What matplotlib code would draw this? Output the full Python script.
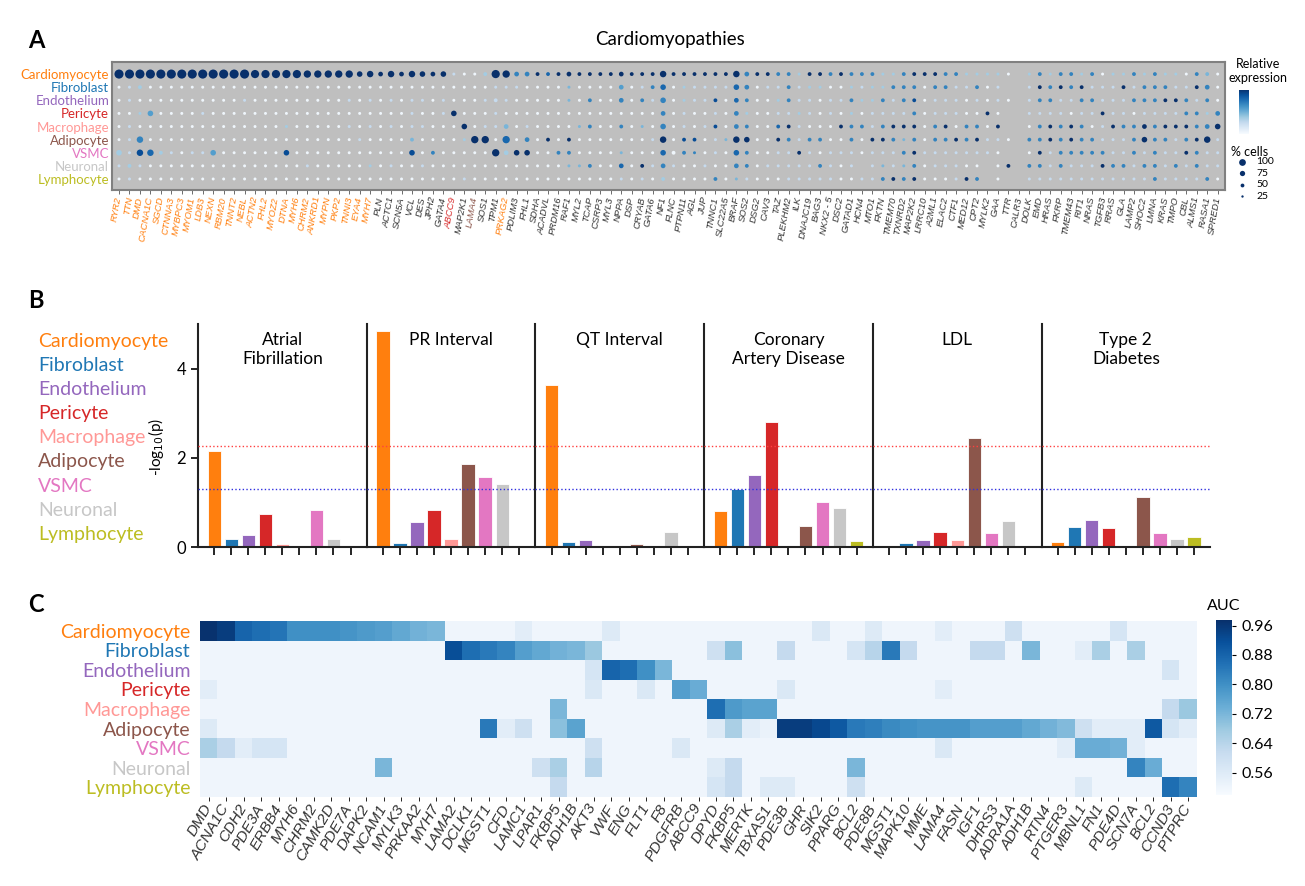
import matplotlib
matplotlib.use('Agg')
import matplotlib.pyplot as plt
import numpy as np

plt.rcParams['font.family'] = ['Lato', 'DejaVu Sans']

W, H = 1305, 886

cell_types = ['Cardiomyocyte', 'Fibroblast', 'Endothelium', 'Pericyte', 'Macrophage',
              'Adipocyte', 'VSMC', 'Neuronal', 'Lymphocyte']
cell_colors = ['#ff7f0e', '#1f77b4', '#9467bd', '#d62728', '#ff9896',
               '#8c564b', '#e377c2', '#c7c7c7', '#bcbd22']

# ---- panel A: cardiomyopathy genes ----
cm_genes = ['RYR2', 'TTN', 'DMD', 'CACNA1C', 'SGCD', 'CTNNA3', 'MYBPC3', 'MYOM1', 'LDB3', 'NEXN',
            'RBM20', 'TNNT2', 'NEBL', 'ACTN2', 'FHL2', 'MYOZ2', 'DTNA', 'MYH6', 'CHRM2', 'ANKRD1',
            'MYPN', 'PKP2', 'TNNI3', 'EYA4', 'MYH7', 'PLN', 'ACTC1', 'SCN5A', 'VCL', 'DES',
            'JPH2', 'GATA4', 'ABCC9', 'MAP2K1', 'LAMA4', 'SOS1', 'TPM1', 'PRKAG2', 'PDLIM3', 'FHL1',
            'SDHA', 'ACADVL', 'PRDM16', 'RAF1', 'MYL2', 'TCAP', 'CSRP3', 'MYL3', 'NPPA', 'DSP',
            'CRYAB', 'GATA6', 'NF1', 'FLNC', 'PTPN11', 'AGL', 'JUP', 'TNNC1', 'SLC22A5', 'BRAF',
            'SOS2', 'DSG2', 'CAV3', 'TAZ', 'PLEKHM2', 'ILK', 'DNAJC19', 'BAG3', 'NKX2 - 5', 'DSC2',
            'GATAD1', 'HCN4', 'MTO1', 'FKTN', 'TMEM70', 'TXNRD2', 'MAP2K2', 'LRRC10', 'A2ML1', 'ELAC2',
            'CTF1', 'MED12', 'CPT2', 'MYLK2', 'GAA', 'TTR', 'CALR3', 'DOLK', 'EMD', 'HRAS',
            'FKRP', 'TMEM43', 'RIT1', 'NRAS', 'TGFB3', 'RRAS', 'GLA', 'LAMP2', 'SHOC2', 'LMNA',
            'KRAS', 'TMPO', 'CBL', 'ALMS1', 'RASA1', 'SPRED1']
# label colour = cell type the gene was assigned to (0 cardio, 3 pericyte, 5 adipocyte, -1 none)
cm_gene_group = [0] * 25 + [-1] * 7 + [3, -1, 5, -1, -1, 0] + [-1] * 68

# % cells code per gene (0..9 -> 0..100 %), one string per cell type
pct_codes = [
    '9999999999 9998888877 7775646465 4522238744 3334333343 3363333336 4333323333 3332233333 3222220232 3323222323 222332',
    '2232222222 2222222222 2222222222 2222222222 2222222242 2352222225 4222322222 2222333233 2232200233 3332223233 322342',
    '2222222222 2222222222 2222222222 2222223222 2222232242 3252222324 3222322222 3223233222 2222220233 2233222333 333232',
    '2225222222 2222222222 2222222222 2252222222 2222222222 2242222224 2222222222 2222223222 2223200222 2222322222 223324',
    '2222222222 2222222222 2222222222 2225222422 2222232232 2252222324 3223322223 3323333233 2332300233 3332233343 333345',
    '2262222222 2222222222 2222222232 2222772724 2323222222 2262332226 5223323322 3233323233 3332220333 3333222353 323362',
    '5266322225 2222225222 2222222252 3222227455 2233222222 2253322225 3222232222 2222233222 2222200232 3333322323 223322',
    '2322222222 2222222222 2222222222 2222222222 2222232242 3242222224 3222222322 2022223222 2220230332 3222333233 232322',
    '2222222222 2222222222 2222222222 2222222222 2222222222 2232222322 2222222222 2223333222 2330200222 2222222223 222232',
]
# relative expression code per gene (0..9 -> 0..1)
expr_codes = [
    '9999999999 9999999999 9999999999 9920039966 9799999999 9999999999 6996639969 6663369996 6333300363 6636033636 330640',
    '0230000000 0000000000 0000000000 0000002220 0004000050 2670322227 6022623300 3233666066 2260200296 9692229266 622960',
    '0200000000 0020000000 0020202022 0200022200 0004060060 6260322807 6003622022 6336268022 2020200266 2266222666 996260',
    '0035000020 0000000000 0000000020 0290002000 0000000000 0060200206 3002232020 3022226022 2009000222 2022922022 226636',
    '0200000000 0000003000 0020202022 0009022402 0000460060 4060202806 6007920009 6626999069 0660900069 6960296696 999669',
    '0260000000 0000000000 0002000040 0003990706 0909000000 0290880249 9009626600 6099646066 9692200669 6966222696 626992',
    '3287320225 0000008000 0000000080 6000009399 0066000040 0070660207 6002292022 2022269222 2222000092 6666622626 229622',
    '2320000000 0000000020 0000302002 0000000000 0004460070 9262002006 6022222620 2024246022 2000090662 6222966266 262622',
    '0200000000 0000000000 0000000000 0002000000 0000000020 2030000604 2000222220 0226969000 2960000222 2222222226 222260',
]
legend_pct = [100, 75, 50, 25]

# ---- panel B: -log10(p) per trait ----
traits = ['Atrial\nFibrillation', 'PR Interval', 'QT Interval',
          'Coronary\nArtery Disease', 'LDL', 'Type 2\nDiabetes']
af_p = [2.16, 0.17, 0.28, 0.75, 0.06, 0.02, 0.84, 0.19, 0.03]
pr_p = [4.85, 0.09, 0.55, 0.84, 0.19, 1.86, 1.57, 1.42, 0.0]
qt_p = [3.63, 0.11, 0.15, 0.0, 0.0, 0.07, 0.0, 0.34, 0.02]
cad_p = [0.81, 1.31, 1.62, 2.81, 0.0, 0.46, 1.01, 0.88, 0.13]
ldl_p = [0.0, 0.10, 0.16, 0.34, 0.15, 2.44, 0.31, 0.58, 0.0]
t2d_p = [0.12, 0.45, 0.60, 0.42, 0.0, 1.13, 0.31, 0.17, 0.22]
strict_line = 2.26
nominal_line = 1.30

# ---- panel C: AUC of marker genes ----
auc_genes = ['DMD', 'ACNA1C', 'CDH2', 'PDE3A', 'ERBB4', 'MYH6', 'CHRM2', 'CAMK2D', 'PDE7A', 'DAPK2',
             'NCAM1', 'MYLK3', 'PRKAA2', 'MYH7', 'LAMA2', 'DCLK1', 'MGST1', 'CFD', 'LAMC1', 'LPAR1',
             'FKBP5', 'ADH1B', 'AKT3', 'VWF', 'ENG', 'FLT1', 'F8', 'PDGFRB', 'ABCC9', 'DPYD',
             'FKBP5', 'MERTK', 'TBXAS1', 'PDE3B', 'GHR', 'SIK2', 'PPARG', 'BCL2', 'PDE8B', 'MGST1',
             'MAPK10', 'MME', 'LAMA4', 'FASN', 'IGF1', 'DHRS3', 'ADRA1A', 'ADH1B', 'RTN4', 'PTGER3',
             'MBNL1', 'FN1', 'PDE4D', 'SCN7A', 'BCL2', 'CCND3', 'PTPRC']
auc_cardio = [.97, .95, .88, .86, .85, .80, .80, .80, .79, .78,
              .77, .75, .73, .72, .52, .52, .52, .52, .55, .52,
              .52, .52, .52, .56, .52, .52, .52, .52, .52, .52,
              .52, .52, .52, .52, .52, .57, .52, .52, .56, .52,
              .52, .52, .55, .52, .52, .52, .60, .52, .52, .52,
              .52, .52, .58, .52, .52, .52, .52]
auc_fibro = [.52, .52, .52, .52, .52, .52, .52, .52, .52, .52,
             .52, .52, .52, .52, .92, .86, .84, .82, .77, .75,
             .73, .72, .68, .52, .52, .52, .52, .52, .52, .60,
             .70, .52, .52, .62, .52, .52, .52, .58, .64, .84,
             .62, .52, .52, .52, .62, .62, .52, .72, .52, .52,
             .55, .66, .52, .66, .52, .52, .52]
auc_endo = [.52, .52, .52, .52, .52, .52, .52, .52, .52, .52,
            .52, .52, .52, .52, .52, .52, .52, .52, .52, .52,
            .52, .52, .58, .88, .86, .80, .72, .52, .52, .52,
            .52, .52, .52, .52, .52, .52, .52, .52, .52, .52,
            .52, .52, .52, .52, .52, .52, .52, .52, .52, .52,
            .52, .52, .52, .52, .52, .58, .52]
auc_peri = [.55, .52, .52, .52, .52, .52, .52, .52, .52, .52,
            .52, .52, .52, .52, .52, .52, .52, .52, .52, .52,
            .52, .52, .57, .52, .52, .57, .52, .77, .74, .52,
            .52, .52, .52, .57, .52, .52, .52, .52, .52, .52,
            .52, .52, .55, .52, .52, .52, .52, .52, .52, .52,
            .52, .52, .52, .52, .52, .52, .52]
auc_macro = [.52, .52, .52, .52, .52, .52, .52, .52, .52, .52,
             .52, .52, .52, .52, .52, .52, .52, .52, .52, .52,
             .72, .52, .52, .52, .52, .52, .52, .52, .52, .86,
             .78, .76, .76, .52, .52, .52, .52, .52, .52, .52,
             .52, .52, .52, .52, .52, .52, .52, .52, .52, .52,
             .52, .52, .52, .52, .52, .62, .68]
auc_adipo = [.56, .52, .52, .52, .52, .52, .52, .52, .52, .52,
             .52, .52, .52, .52, .52, .52, .84, .55, .60, .52,
             .70, .76, .52, .52, .52, .52, .52, .52, .52, .56,
             .66, .55, .53, .95, .95, .93, .90, .84, .83, .81,
             .80, .79, .79, .79, .77, .77, .77, .75, .73, .71,
             .60, .55, .55, .55, .90, .58, .55]
auc_vsmc = [.66, .62, .55, .58, .58, .52, .52, .52, .52, .52,
            .52, .52, .52, .52, .52, .52, .52, .52, .52, .52,
            .52, .52, .60, .52, .52, .52, .52, .57, .52, .52,
            .52, .52, .52, .52, .52, .52, .52, .52, .52, .52,
            .52, .52, .57, .52, .52, .52, .52, .52, .52, .55,
            .74, .74, .73, .55, .52, .52, .52]
auc_neuro = [.52, .52, .52, .52, .52, .52, .52, .52, .52, .52,
             .72, .52, .52, .52, .52, .52, .52, .52, .52, .60,
             .66, .52, .64, .52, .52, .52, .52, .52, .52, .56,
             .62, .52, .52, .52, .52, .52, .52, .72, .52, .52,
             .52, .52, .52, .52, .52, .52, .52, .52, .52, .52,
             .52, .52, .52, .82, .74, .52, .52]
auc_lymph = [.52, .52, .52, .52, .52, .52, .52, .52, .52, .52,
             .52, .52, .52, .52, .52, .52, .52, .52, .52, .52,
             .62, .52, .52, .52, .52, .52, .52, .52, .52, .58,
             .62, .52, .56, .56, .52, .52, .52, .60, .52, .52,
             .52, .52, .52, .52, .52, .52, .52, .52, .52, .52,
             .56, .52, .52, .52, .52, .86, .82]
auc_ticks = [0.96, 0.88, 0.80, 0.72, 0.64, 0.56]


def rect(x0, y0, x1, y1):
    # pixel box -> figure fraction [left, bottom, width, height]
    return [x0 / W, 1 - y1 / H, (x1 - x0) / W, (y1 - y0) / H]


def dot_size(pct):
    d = 1.2 + 0.079 * np.asarray(pct, dtype=float)   # diameter in px
    return (d * 0.72) ** 2


def plot_dots(fig):
    ax = fig.add_axes(rect(112, 62, 1225, 190))
    ax.set_facecolor('#bfbfbf')
    n = len(cm_genes)
    for r in range(len(cell_types)):
        pct = np.array([int(c) for c in pct_codes[r].replace(' ', '')]) * 100 / 9
        expr = np.array([int(c) for c in expr_codes[r].replace(' ', '')]) / 9
        assert len(pct) == n and len(expr) == n, r
        keep = pct > 0
        x = np.arange(n)[keep]
        ax.scatter(x, np.full(len(x), r), s=dot_size(pct[keep]),
                   c=plt.cm.Blues(0.04 + 0.96 * expr[keep]), linewidths=0, zorder=3)
    ax.set_xlim(-0.67, n - 0.3)
    ax.set_ylim(8.84, -0.92)
    ax.set_yticks(range(len(cell_types)))
    ax.set_yticklabels(cell_types, fontsize=9.5)
    for lab, col in zip(ax.get_yticklabels(), cell_colors):
        lab.set_color(col)
    ax.tick_params(axis='y', length=0, pad=2)
    ax.set_xticks(range(n))
    ax.set_xticklabels(cm_genes, rotation=80, fontsize=6.8, style='italic',
                       family='Liberation Sans', ha='right', va='center', rotation_mode='anchor')
    for lab, g in zip(ax.get_xticklabels(), cm_gene_group):
        lab.set_color('#333333' if g < 0 else cell_colors[g])
    ax.tick_params(axis='x', length=3, width=0.6, color='#555555', pad=2)
    for s in ax.spines.values():
        s.set_color('#808080')
        s.set_linewidth(1.5)

    # colour bar
    cax = fig.add_axes(rect(1239, 90, 1249, 134))
    cax.imshow(np.linspace(0, 1, 100).reshape(-1, 1), cmap='Blues', aspect='auto', origin='lower')
    cax.axis('off')
    fig.text(1258 / W, 1 - 71 / H, 'Relative\nexpression', ha='center', va='center',
             fontsize=9, linespacing=1.1)
    fig.text(1250 / W, 1 - 152 / H, '% cells', ha='center', va='center', fontsize=9)
    lax = fig.add_axes(rect(1232, 156, 1290, 202))
    lax.axis('off')
    lax.set_xlim(0, 1)
    lax.set_ylim(len(legend_pct) - 0.5, -0.5)
    for i, p in enumerate(legend_pct):
        lax.scatter([0.17], [i], s=dot_size(p) * 0.55, color='#08306b', linewidths=0)
        lax.text(0.42, i, str(p), va='center', ha='left', fontsize=7.5)


def plot_bars(fig):
    values = [af_p, pr_p, qt_p, cad_p, ldl_p, t2d_p]
    width = 168.7
    for i, (name, vals) in enumerate(zip(traits, values)):
        x0 = 198 + i * width
        ax = fig.add_axes(rect(x0, 324, x0 + width, 547))
        ax.bar(range(len(vals)), vals, width=0.78, color=cell_colors,
               edgecolor='white', linewidth=0.6, zorder=2)
        ax.axhline(strict_line, color='#ff4040', ls=':', lw=1.0, zorder=3)
        ax.axhline(nominal_line, color='#3030e0', ls=':', lw=1.0, zorder=3)
        ax.set_xlim(-0.95, 8.95)
        ax.set_ylim(0, 5.0)
        ax.set_xticks(range(9))
        ax.set_xticklabels([])
        ax.tick_params(axis='x', direction='out', length=6, width=1.2)
        for s in ['top', 'right']:
            ax.spines[s].set_visible(False)
        for s in ['left', 'bottom']:
            ax.spines[s].set_linewidth(1.5)
            ax.spines[s].set_color('#222222')
        ax.patch.set_alpha(0)
        if i == 0:
            ax.set_yticks([0, 2, 4])
            ax.tick_params(axis='y', length=5, width=1.2, labelsize=12)
            ax.set_ylabel('-log$_{10}$(p)', fontsize=11)
            ax.yaxis.set_label_coords(-0.19, 0.45)
        else:
            ax.set_yticks([])
        ax.text(0.5, 0.965, name, transform=ax.transAxes, ha='center', va='top',
                fontsize=12.5, linespacing=1.25)

    for i, (name, col) in enumerate(zip(cell_types, cell_colors)):
        fig.text(38 / W, 1 - (341 + 24.2 * i) / H, name, color=col, fontsize=14,
                 ha='left', va='center')


def plot_heatmap(fig):
    data = np.array([auc_cardio, auc_fibro, auc_endo, auc_peri, auc_macro,
                     auc_adipo, auc_vsmc, auc_neuro, auc_lymph])
    ax = fig.add_axes(rect(200, 621, 1197, 797))
    im = ax.imshow(data, aspect='auto', cmap='Blues', vmin=0.5, vmax=0.975,
                   interpolation='nearest')
    ax.set_yticks(range(len(cell_types)))
    ax.set_yticklabels(cell_types, fontsize=14)
    for lab, col in zip(ax.get_yticklabels(), cell_colors):
        lab.set_color(col)
    ax.tick_params(axis='y', length=0, pad=7)
    ax.set_xticks(range(len(auc_genes)))
    ax.set_xticklabels(auc_genes, rotation=60, fontsize=11, style='italic',
                       family='Liberation Sans', color='#333333',
                       ha='right', va='center', rotation_mode='anchor')
    ax.tick_params(axis='x', length=3, width=0.6, pad=3)
    for s in ax.spines.values():
        s.set_visible(False)

    cax = fig.add_axes(rect(1216, 620, 1232, 795))
    cb = fig.colorbar(im, cax=cax, ticks=auc_ticks)
    cb.outline.set_visible(False)
    cb.ax.set_yticklabels(['%.2f' % t for t in auc_ticks])
    cb.ax.tick_params(labelsize=11.5, length=3, width=0.8)
    fig.text(1224 / W, 1 - 606 / H, 'AUC', ha='center', va='center', fontsize=11.5)


fig = plt.figure(figsize=(W / 100, H / 100), dpi=100)
fig.patch.set_facecolor('white')

plot_dots(fig)
plot_bars(fig)
plot_heatmap(fig)

fig.text(670 / W, 1 - 40 / H, 'Cardiomyopathies', ha='center', va='center', fontsize=13.5)
for letter, y in [('A', 40), ('B', 300), ('C', 605)]:
    fig.text(36 / W, 1 - y / H, letter, ha='center', va='center', fontsize=17, weight='bold')

fig.savefig('out.png', dpi=100)
